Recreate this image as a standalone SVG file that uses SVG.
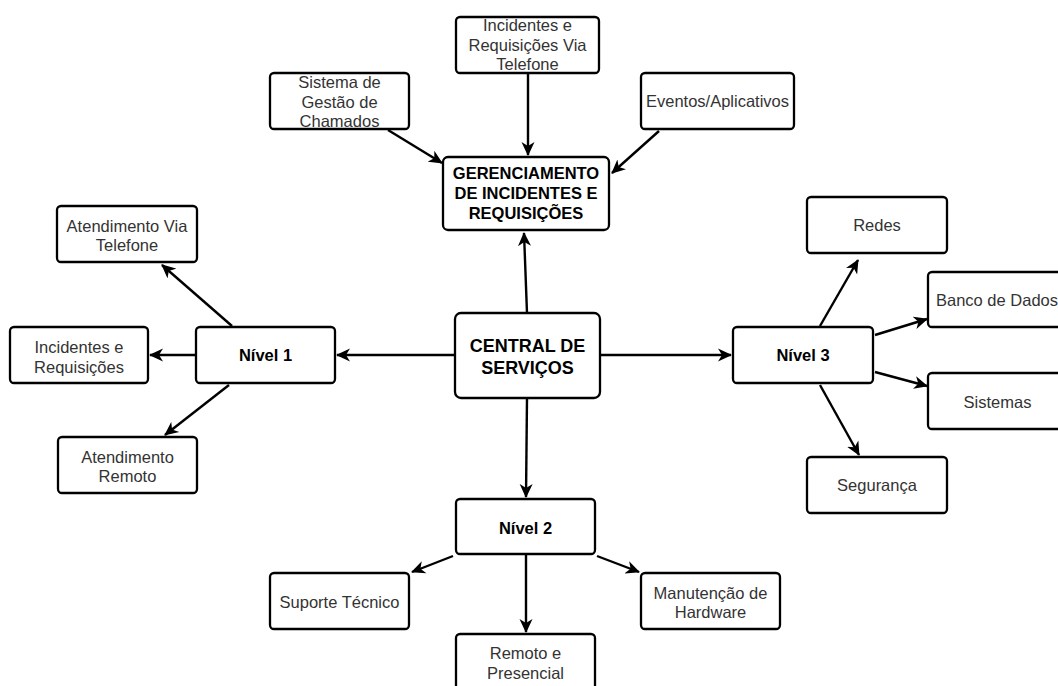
<svg xmlns="http://www.w3.org/2000/svg" width="1058" height="686" viewBox="0 0 1058 686">
<defs>
<style>
.box{fill:#fff;stroke:#000;stroke-width:2.3}
.t{font-family:"Liberation Sans",Arial,sans-serif;font-size:16.5px;fill:#333;text-anchor:middle}
.b{font-family:"Liberation Sans",Arial,sans-serif;font-size:16.5px;font-weight:bold;fill:#000;text-anchor:middle}
.bb{font-size:18px}
.c{fill:none;stroke:#000;stroke-width:2.4;marker-end:url(#arr)}
</style>
<marker id="arr" viewBox="0 0 14 14" refX="13" refY="7" markerWidth="14" markerHeight="14" markerUnits="userSpaceOnUse" orient="auto">
<path d="M0,0.5 L14,7 L0,13.5 L4,7 z" fill="#000"/>
</marker>
</defs>
<rect width="1058" height="686" fill="#fff"/>
<g id="connectors">
<line class="c" x1="528" y1="73" x2="528" y2="155"/>
<line class="c" x1="388" y1="130" x2="442" y2="163"/>
<line class="c" x1="659" y1="131" x2="612" y2="173"/>
<line class="c" x1="527" y1="313" x2="524" y2="233"/>
<line class="c" x1="455" y1="355" x2="337" y2="355"/>
<line class="c" x1="600" y1="355" x2="731" y2="355"/>
<line class="c" x1="527" y1="398" x2="526" y2="497"/>
<line class="c" x1="232" y1="326" x2="162" y2="265"/>
<line class="c" x1="196" y1="355" x2="150" y2="355"/>
<line class="c" x1="229" y1="385" x2="165" y2="435"/>
<line class="c" x1="820" y1="326" x2="858" y2="260"/>
<line class="c" x1="875" y1="335" x2="927" y2="319"/>
<line class="c" x1="875" y1="372" x2="927" y2="386"/>
<line class="c" x1="820" y1="385" x2="859" y2="455"/>
<line class="c" x1="453" y1="556" x2="412" y2="572"/>
<line class="c" x1="526" y1="554" x2="526" y2="632"/>
<line class="c" x1="597" y1="556" x2="639" y2="572"/>
</g>
<g id="n-incidentes-telefone">
<rect class="box" x="456" y="17" width="143" height="56" rx="4"/>
<text class="t" x="527.5" y="31">Incidentes e</text>
<text class="t" x="527.5" y="51">Requisições Via</text>
<text class="t" x="527.5" y="70">Telefone</text>
</g>
<g id="n-sistema">
<rect class="box" x="270" y="73" width="139" height="56" rx="4"/>
<text class="t" x="339.5" y="88">Sistema de</text>
<text class="t" x="339.5" y="108">Gestão de</text>
<text class="t" x="339.5" y="127">Chamados</text>
</g>
<g id="n-eventos">
<rect class="box" x="641" y="73" width="153" height="56" rx="4"/>
<text class="t" x="717.5" y="107">Eventos/Aplicativos</text>
</g>
<g id="n-gerenciamento">
<rect class="box" x="443" y="157" width="166" height="73" rx="5"/>
<text class="b" x="526" y="179">GERENCIAMENTO</text>
<text class="b" x="526" y="199">DE INCIDENTES E</text>
<text class="b" x="526" y="219">REQUISIÇÕES</text>
</g>
<g id="n-central">
<rect class="box" x="455" y="313" width="145" height="85" rx="6"/>
<text class="b bb" x="527.5" y="351.5">CENTRAL DE</text>
<text class="b bb" x="527.5" y="373.5">SERVIÇOS</text>
</g>
<g id="n-nivel1">
<rect class="box" x="196" y="327" width="139" height="56" rx="4"/>
<text class="b" x="265.5" y="361">Nível 1</text>
</g>
<g id="n-atend-telefone">
<rect class="box" x="57" y="206" width="140" height="56" rx="4"/>
<text class="t" x="127" y="232">Atendimento Via</text>
<text class="t" x="127" y="251">Telefone</text>
</g>
<g id="n-incidentes">
<rect class="box" x="10" y="327" width="138" height="56" rx="4"/>
<text class="t" x="79" y="353">Incidentes e</text>
<text class="t" x="79" y="373">Requisições</text>
</g>
<g id="n-atend-remoto">
<rect class="box" x="58" y="437" width="139" height="56" rx="4"/>
<text class="t" x="127.5" y="463">Atendimento</text>
<text class="t" x="127.5" y="482">Remoto</text>
</g>
<g id="n-nivel3">
<rect class="box" x="733" y="327" width="140" height="56" rx="4"/>
<text class="b" x="803" y="361">Nível 3</text>
</g>
<g id="n-redes">
<rect class="box" x="807" y="197" width="140" height="56" rx="4"/>
<text class="t" x="877" y="231">Redes</text>
</g>
<g id="n-banco">
<rect class="box" x="928" y="272" width="138" height="55" rx="4"/>
<text class="t" x="997" y="306">Banco de Dados</text>
</g>
<g id="n-sistemas">
<rect class="box" x="928" y="373" width="138" height="56" rx="4"/>
<text class="t" x="997.5" y="408">Sistemas</text>
</g>
<g id="n-seguranca">
<rect class="box" x="807" y="457" width="140" height="56" rx="4"/>
<text class="t" x="877" y="491">Segurança</text>
</g>
<g id="n-nivel2">
<rect class="box" x="456" y="499" width="139" height="55" rx="4"/>
<text class="b" x="525.5" y="534">Nível 2</text>
</g>
<g id="n-suporte">
<rect class="box" x="270" y="573" width="139" height="56" rx="4"/>
<text class="t" x="339.5" y="608">Suporte Técnico</text>
</g>
<g id="n-remoto">
<rect class="box" x="456" y="634" width="139" height="56" rx="4"/>
<text class="t" x="525.5" y="659">Remoto e</text>
<text class="t" x="525.5" y="679">Presencial</text>
</g>
<g id="n-manutencao">
<rect class="box" x="641" y="573" width="139" height="56" rx="4"/>
<text class="t" x="710.5" y="599">Manutenção de</text>
<text class="t" x="710.5" y="618">Hardware</text>
</g>
</svg>
